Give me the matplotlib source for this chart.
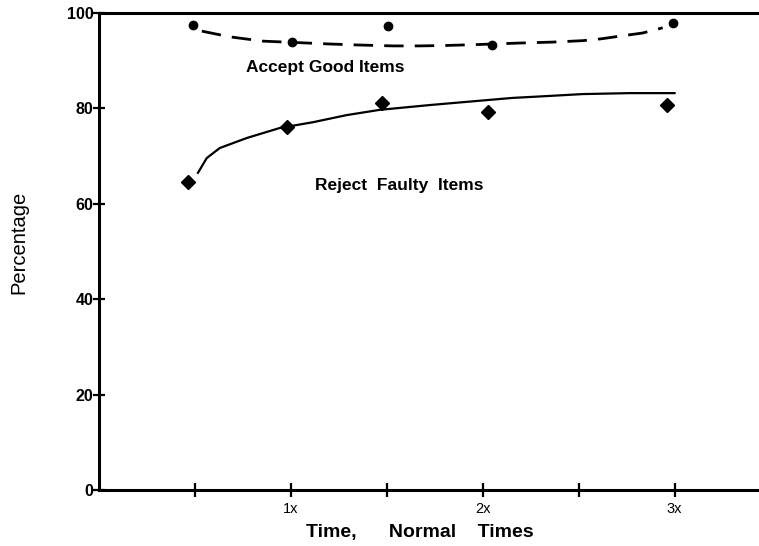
import numpy as np
import matplotlib
matplotlib.use('Agg')
import matplotlib.pyplot as plt

plt.rcParams['font.family'] = ['Liberation Sans', 'DejaVu Sans']

# measured points (x in multiples of normal time)
good_x = [0.49, 1.005, 1.505, 2.05, 2.99]
good_y = [97.5, 93.9, 97.3, 93.3, 97.9]
faulty_x = [0.464, 0.979, 1.474, 2.026, 2.958]
faulty_y = [64.6, 76.1, 81.1, 79.2, 80.7]

# trend curves
good_curve_x = [0.536, 0.682, 0.854, 1.031, 1.203, 1.344, 1.531, 1.672, 1.818,
                1.984, 2.193, 2.365, 2.521, 2.620, 2.724, 2.833, 2.938]
good_curve_y = [96.2, 95.0, 94.1, 93.8, 93.5, 93.3, 93.1, 93.1, 93.2,
                93.4, 93.7, 93.9, 94.2, 94.6, 95.2, 95.8, 96.9]
faulty_curve_x = [0.516, 0.562, 0.630, 0.771, 0.943, 1.115, 1.292, 1.464, 1.724,
                  1.896, 2.156, 2.297, 2.521, 2.766, 3.0]
faulty_curve_y = [66.5, 69.6, 71.7, 73.8, 75.9, 77.1, 78.6, 79.7, 80.7,
                  81.3, 82.2, 82.5, 83.0, 83.2, 83.2]

xticks = [0.5, 1, 1.5, 2, 2.5, 3]
xticklabels = ['', '1x', '', '2x', '', '3x']
yticks = [0, 20, 40, 60, 80, 100]

fig = plt.figure(figsize=(7.59, 5.46), dpi=100)
ax = fig.add_axes([0.1304, 0.1026, 0.8696, 0.8736])

ax.plot(good_curve_x, good_curve_y, color='black', lw=2, dashes=(7, 4))
ax.plot(faulty_curve_x, faulty_curve_y, color='black', lw=1.6)
ax.plot(good_x, good_y, 'o', color='black', ms=6)
ax.plot(faulty_x, faulty_y, 'D', color='black', ms=7)

ax.text(1.177, 88.5, 'Accept Good Items', fontsize=12.5, fontweight='bold',
        ha='center', va='center')
ax.text(1.567, 63.9, 'Reject  Faulty  Items', fontsize=12.5, fontweight='bold',
        ha='center', va='center')

ax.set_xlim(0, 3.44)
ax.set_ylim(0, 100)
ax.set_xticks(xticks)
ax.set_xticklabels(xticklabels, fontsize=10.5)
ax.set_yticks(yticks)
ax.set_yticklabels([str(v) for v in yticks], fontsize=11.5, fontweight='bold')
ax.tick_params(axis='x', direction='inout', length=10, width=1.6, pad=4)
ax.tick_params(axis='y', direction='inout', length=8, width=1.6, pad=0)

for side in ['left', 'bottom', 'top']:
    ax.spines[side].set_linewidth(2.2)
ax.spines['right'].set_visible(False)

ax.set_ylabel('Percentage', fontsize=14.5)
ax.yaxis.set_label_coords(-0.107, 0.52)
ax.set_xlabel('Time,      Normal    Times', fontsize=14, fontweight='bold')
ax.xaxis.set_label_coords(0.486, -0.071)

fig.savefig('out.png', dpi=100)
